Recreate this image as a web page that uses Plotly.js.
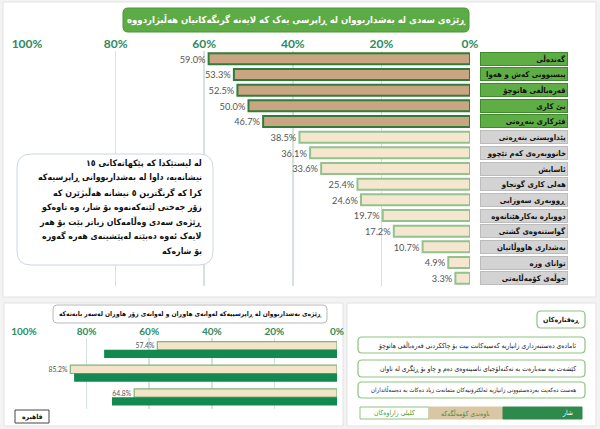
<!DOCTYPE html>
<html>
<head>
<meta charset="utf-8">
<script src="https://cdn.plot.ly/plotly-3.0.1.min.js"></script>
<style>
html,body{margin:0;padding:0;background:#f3f3f3;}
#chart{width:600px;height:429px;}
</style>
</head>
<body>
<div id="chart"></div>
<script>
// ---------- data ----------
const chartTitle = "ڕێژەی سەدی لە بەشداربووان لە ڕاپرسی یەک کە لایەنە گرنگەکانیان هەڵبژاردووە";
const categories = [
  "گەندەڵی",
  "پیسبوونی کەش و هەوا",
  "قەرەباڵغی هاتوچۆ",
  "بێ کاری",
  "فێرکاری بنەڕەتی",
  "پێداویستی بنەڕەتی",
  "خانووبەرەی کەم تێچوو",
  "ئاسایش",
  "هەلی کاری گونجاو",
  "ڕووبەری سەوزایی",
  "دووبارە بەکارهێنانەوە",
  "گواستنەوەی گشتی",
  "بەشداری هاووڵاتیان",
  "توانای وزە",
  "جوڵەی کۆمەڵایەتی"
];
const shares = [59.0, 53.3, 52.5, 50.0, 46.7, 38.5, 36.1, 33.6, 25.4, 24.6, 19.7, 17.2, 10.7, 4.9, 3.3];
const highlightCount = 5;

const tickVals = [0, 20, 40, 60, 80, 100];
const tickText = ["0%", "20%", "40%", "60%", "80%", "100%"];

const noteLines = [
  "لە لیستێکدا کە پێکهاتەکانی ١٥",
  "نیشانەیە، داوا لە بەشداربووانی ڕاپرسیەکە",
  "کرا کە گرنگترین ٥ نیشانە هەڵبژێرن کە",
  "زۆر جەختی لێنەکەنەوە بۆ شار، وە تاوەکو",
  "ڕێژەی سەدی وەڵامەکان زیاتر بێت بۆ هەر",
  "لایەک ئەوە دەبێتە لەپێشینەی هەرە گەورە",
  "بۆ شارەکە"
];

const bottomTitle = "ڕێژەی بەشداربووان لە ڕاپرسییەکە لەوانەی هاوڕان و لەوانەی زۆر هاوڕان لەسەر بابەتەکە";
const behaviours = [
  "ئامادەی دەستبەرداری زانیاریە کەسیەکانت بیت بۆ چاککردنی قەرەباڵغی هاتوچۆ",
  "کێشەت نیە سەبارەت بە تەکنەلۆجیای ناسینەوەی دەم و چاو بۆ ڕێگری لە تاوان",
  "هەست دەکەیت بەردەستبوونی زانیاریە ئەلکترۆنیەکان متمانەت زیاد دەکات بە دەسەڵاتداران"
];
const communityShares = [57.4, 85.2, 64.8];
const cityShares = [74.4, 84.0, 71.9];
const behavioursTitle = "ڕەفتارەکان";
const cityName = "قاهیرە";
const legendKey = "کلیلی زاراوەکان";
const legendCommunity = "ناوەندی کۆمەڵگەکە";
const legendCity = "شار";

// ---------- helpers (layout geometry, pixels -> paper) ----------
const W = 600, H = 429;
const X = p => p / W;
const Y = p => 1 - p / H;
function roundRect(x0, y0, x1, y1, r, fill, line, lw, layer) {
  const pts = `M ${X(x0+r)},${Y(y0)} L ${X(x1-r)},${Y(y0)} Q ${X(x1)},${Y(y0)} ${X(x1)},${Y(y0+r)} ` +
    `L ${X(x1)},${Y(y1-r)} Q ${X(x1)},${Y(y1)} ${X(x1-r)},${Y(y1)} L ${X(x0+r)},${Y(y1)} ` +
    `Q ${X(x0)},${Y(y1)} ${X(x0)},${Y(y1-r)} L ${X(x0)},${Y(y0+r)} Q ${X(x0)},${Y(y0)} ${X(x0+r)},${Y(y0)} Z`;
  return {type: 'path', xref: 'paper', yref: 'paper', path: pts, fillcolor: fill,
          line: {color: line, width: lw}, layer: layer || 'above'};
}
function rect(x0, y0, x1, y1, fill, line, lw, layer) {
  return {type: 'rect', xref: 'paper', yref: 'paper', x0: X(x0), x1: X(x1), y0: Y(y1), y1: Y(y0),
          fillcolor: fill, line: {color: line, width: lw}, layer: layer || 'above'};
}

const arabicFont = "DejaVu Sans Condensed, DejaVu Sans, sans-serif";
const numFont = "Lato, Open Sans, sans-serif";

// ---------- traces ----------
const topTrace = {
  type: 'bar', orientation: 'h',
  x: shares, y: categories, xaxis: 'x', yaxis: 'y',
  marker: {
    color: shares.map((v, i) => i < highlightCount ? '#c9a582' : '#f4e6cf'),
    line: {color: shares.map((v, i) => i < highlightCount ? '#2f7d3b' : '#93c28c'), width: 2}
  },
  text: shares.map(v => v.toFixed(1) + '%'),
  textposition: 'outside',
  textfont: {family: numFont, size: 11, color: '#555'},
  cliponaxis: false,
  hoverinfo: 'skip'
};

const communityTrace = {
  type: 'bar', orientation: 'h',
  x: communityShares, y: behaviours, xaxis: 'x2', yaxis: 'y2',
  marker: {color: '#f3e3c8', line: {color: '#7db779', width: 1.2}},
  text: communityShares.map(v => v.toFixed(1) + '%'),
  textposition: 'outside',
  textfont: {family: numFont, size: 9, color: '#555'},
  cliponaxis: false,
  hoverinfo: 'skip'
};
const cityTrace = {
  type: 'bar', orientation: 'h',
  x: cityShares, y: behaviours, xaxis: 'x2', yaxis: 'y2',
  marker: {color: '#12894f', line: {color: '#12894f', width: 0}},
  hoverinfo: 'skip'
};

// ---------- layout ----------
const shapes = [
  rect(3, 2, 596, 297, '#ffffff', '#e2e2e2', 1, 'below'),
  rect(4, 303, 343, 426, '#ffffff', '#e2e2e2', 1, 'below'),
  rect(347, 303, 596, 426, '#ffffff', '#e2e2e2', 1, 'below'),
  roundRect(123, 8, 469, 32, 5, '#5cab45', '#4a9736', 1),
  roundRect(17, 154, 213, 265, 14, '#ffffff', '#cbd6e2', 1),
  roundRect(53, 305, 327, 323, 4, '#ffffff', '#b9b9b9', 1),
  roundRect(537, 311, 585, 328, 4, '#ffffff', '#8cc47e', 1.2),
  roundRect(358, 337, 585, 353, 4, '#ffffff', '#8cc47e', 1.2),
  roundRect(358, 360, 585, 377, 4, '#ffffff', '#8cc47e', 1.2),
  roundRect(358, 382, 585, 398, 4, '#ffffff', '#8cc47e', 1.2),
  rect(360, 407, 429, 419, '#ffffff', '#8cc47e', 1),
  rect(429, 407, 503, 419, '#d9c6a5', '#d9c6a5', 1),
  rect(503, 407, 582, 419, '#2e8a4b', '#2e8a4b', 1),
  rect(15, 410, 49, 423, '#ffffff', '#444444', 1)
];

const annotations = [];
annotations.push({xref: 'paper', yref: 'paper', x: X(296), y: Y(20), xanchor: 'center', yanchor: 'middle',
  text: '<b>' + chartTitle + '</b>', showarrow: false,
  font: {family: arabicFont, size: 9.5, color: '#ffffff'}});

categories.forEach((c, i) => {
  const hi = i < highlightCount;
  annotations.push({xref: 'paper', yref: 'y', x: X(568), y: c, xanchor: 'right', yanchor: 'middle',
    text: '<b>' + c + '</b>', showarrow: false, align: 'right',
    width: 84, height: 10, borderpad: 1, borderwidth: 1,
    bgcolor: hi ? '#5fae45' : '#d3d3d3', bordercolor: hi ? '#3f8a2c' : '#bcbcbc',
    font: {family: arabicFont, size: 7.8, color: '#111'}});
});

noteLines.forEach((line, i) => {
  annotations.push({xref: 'paper', yref: 'paper', x: X(204), y: Y(163 + i * 14.8), xanchor: 'right', yanchor: 'middle',
    text: '<b>' + line + '</b>', showarrow: false, align: 'right',
    font: {family: arabicFont, size: 8.8, color: '#111'}});
});

annotations.push({xref: 'paper', yref: 'paper', x: X(190), y: Y(314), xanchor: 'center', yanchor: 'middle',
  text: '<b>' + bottomTitle + '</b>', showarrow: false,
  font: {family: arabicFont, size: 6.6, color: '#111'}});

annotations.push({xref: 'paper', yref: 'paper', x: X(561), y: Y(319.5), xanchor: 'center', yanchor: 'middle',
  text: '<b>' + behavioursTitle + '</b>', showarrow: false,
  font: {family: arabicFont, size: 7, color: '#111'}});

const boxCenters = [345, 368.5, 390];
behaviours.forEach((b, i) => {
  annotations.push({xref: 'paper', yref: 'paper', x: X(578), y: Y(boxCenters[i]), xanchor: 'right', yanchor: 'middle',
    text: b, showarrow: false, align: 'right',
    font: {family: arabicFont, size: i === 2 ? 6.1 : 6.8, color: '#222'}});
});

annotations.push({xref: 'paper', yref: 'paper', x: X(394.5), y: Y(413), xanchor: 'center', yanchor: 'middle',
  text: legendKey, showarrow: false, font: {family: arabicFont, size: 6.8, color: '#4a9a3a'}});
annotations.push({xref: 'paper', yref: 'paper', x: X(466), y: Y(413), xanchor: 'center', yanchor: 'middle',
  text: legendCommunity, showarrow: false, font: {family: arabicFont, size: 6.8, color: '#3d8f3a'}});
annotations.push({xref: 'paper', yref: 'paper', x: X(575), y: Y(413), xanchor: 'right', yanchor: 'middle',
  text: legendCity, showarrow: false, font: {family: arabicFont, size: 6.8, color: '#ffffff'}});
annotations.push({xref: 'paper', yref: 'paper', x: X(32), y: Y(416.5), xanchor: 'center', yanchor: 'middle',
  text: '<b>' + cityName + '</b>', showarrow: false, font: {family: arabicFont, size: 6.8, color: '#111'}});

const axisTickFont = size => ({family: numFont, size: size, color: '#2d8a5e', weight: 'bold'});

const layout = {
  width: W, height: H,
  margin: {l: 0, r: 0, t: 0, b: 0},
  paper_bgcolor: '#f3f3f3',
  plot_bgcolor: 'rgba(0,0,0,0)',
  showlegend: false,
  barmode: 'group',
  bargap: 0.3,
  bargroupgap: 0,
  xaxis: {
    domain: [X(27), X(470)], range: [100, 0], side: 'top', anchor: 'y',
    tickvals: tickVals, ticktext: tickText, tickfont: axisTickFont(12),
    showgrid: true, gridcolor: '#d6e2dd', gridwidth: 1.5, zeroline: false, showline: false,
    ticks: '', fixedrange: true
  },
  yaxis: {
    domain: [Y(286), Y(51)], autorange: 'reversed', showticklabels: false,
    showgrid: false, zeroline: false, showline: false, ticks: '', anchor: 'x', fixedrange: true
  },
  xaxis2: {
    domain: [X(24), X(337)], range: [100, 0], side: 'top', anchor: 'y2',
    tickvals: tickVals, ticktext: tickText, tickfont: axisTickFont(10),
    showgrid: true, gridcolor: '#d6e2dd', gridwidth: 1.5, zeroline: false, showline: false,
    ticks: '', fixedrange: true
  },
  yaxis2: {
    domain: [Y(409), Y(338)], autorange: 'reversed', showticklabels: false,
    showgrid: false, zeroline: false, showline: false, ticks: '', anchor: 'x2', fixedrange: true
  },
  shapes: shapes,
  annotations: annotations
};

Plotly.newPlot('chart', [topTrace, communityTrace, cityTrace], layout, {staticPlot: true, displayModeBar: false});
</script>
</body>
</html>
